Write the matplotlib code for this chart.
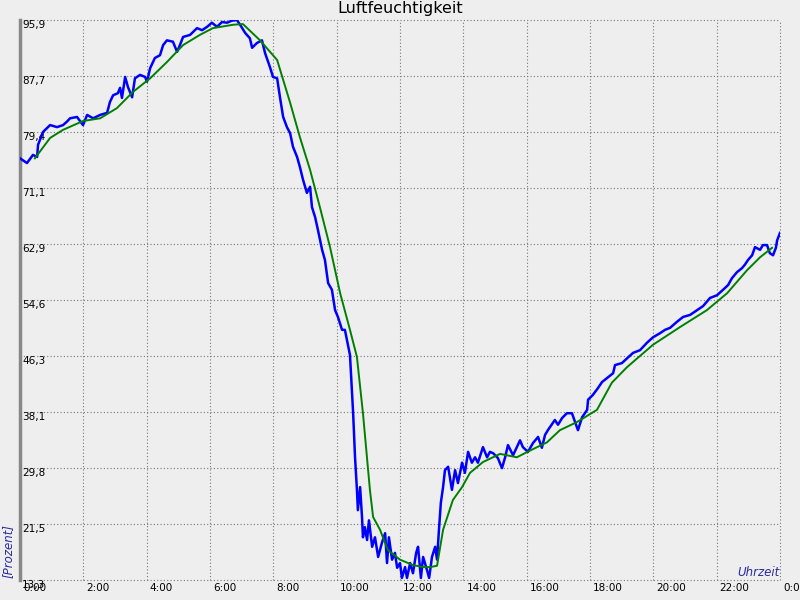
import numpy as np
import matplotlib
matplotlib.use("Agg")
import matplotlib.pyplot as plt
import matplotlib.transforms as mtransforms

# Messwerte (Stunden, Prozent)
blau_zeit = [0.00, 0.22, 0.41, 0.54, 0.57, 0.73, 0.95, 1.17, 1.36, 1.48, 1.58, 1.80, 1.99,
             2.12, 2.31, 2.53, 2.75, 2.84, 2.94, 3.09, 3.16, 3.22, 3.32, 3.41, 3.54, 3.63,
             3.79, 3.95, 4.01, 4.11, 4.26, 4.42, 4.52, 4.64, 4.83, 4.96, 5.05, 5.15, 5.37,
             5.59, 5.75, 5.91, 6.06, 6.22, 6.38, 6.54, 6.69, 6.85, 6.95, 7.11, 7.26, 7.33,
             7.48, 7.64, 7.74, 7.89, 7.99, 8.12, 8.21, 8.31, 8.43, 8.53, 8.62, 8.75, 8.84,
             8.94, 9.06, 9.16, 9.22, 9.32, 9.41, 9.54, 9.63, 9.73, 9.85, 9.95, 10.04, 10.17,
             10.26, 10.42, 10.52, 10.58, 10.64, 10.67, 10.74, 10.80, 10.83, 10.89, 10.96,
             11.02, 11.12, 11.21, 11.31, 11.43, 11.53, 11.59, 11.65, 11.75, 11.84, 11.91,
             12.00, 12.06, 12.16, 12.22, 12.32, 12.41, 12.51, 12.57, 12.66, 12.73, 12.85,
             12.92, 13.01, 13.11, 13.17, 13.23, 13.29, 13.36, 13.42, 13.52, 13.64, 13.74,
             13.83, 13.96, 14.05, 14.15, 14.27, 14.37, 14.46, 14.62, 14.75, 14.84, 14.94,
             15.09, 15.22, 15.32, 15.41, 15.57, 15.79, 15.88, 16.04, 16.20, 16.36, 16.48,
             16.58, 16.67, 16.89, 16.99, 17.12, 17.27, 17.43, 17.53, 17.62, 17.75, 17.91,
             17.94, 18.09, 18.25, 18.38, 18.57, 18.73, 18.79, 19.01, 19.17, 19.36, 19.58,
             19.80, 19.99, 20.21, 20.37, 20.53, 20.75, 20.94, 21.16, 21.38, 21.57, 21.79,
             22.01, 22.20, 22.36, 22.48, 22.64, 22.80, 22.89, 22.99, 23.12, 23.21, 23.37,
             23.46, 23.59, 23.68, 23.78, 23.87, 23.91, 24.00]
blau_wert = [75.5, 74.8, 76.0, 75.7, 77.5, 79.4, 80.4, 80.1, 80.4, 80.9, 81.4, 81.6, 80.4,
             81.9, 81.4, 81.9, 82.2, 83.8, 84.8, 85.1, 85.9, 84.4, 87.5, 86.0, 84.5, 87.3,
             87.8, 87.5, 86.8, 88.8, 90.3, 90.7, 92.2, 92.9, 92.7, 91.2, 92.2, 93.4, 93.7,
             94.7, 94.4, 94.9, 95.5, 94.9, 95.6, 95.5, 95.8, 95.9, 95.2, 94.0, 93.2, 91.8,
             92.5, 92.9, 91.0, 89.0, 87.5, 87.3, 84.5, 81.6, 80.1, 79.2, 77.2, 75.7, 74.2,
             72.3, 70.4, 71.3, 68.3, 66.8, 64.9, 62.0, 60.5, 57.1, 56.1, 53.1, 52.1, 50.2,
             50.2, 46.5, 37.9, 31.4, 26.6, 23.6, 27.0, 22.6, 19.6, 21.1, 19.2,
             22.1, 18.2, 19.6, 16.7, 18.8, 20.2, 15.8, 19.6, 16.3, 17.3, 15.1,
             15.8, 13.6, 15.2, 13.6, 15.8, 14.3, 17.3, 18.2, 13.6, 16.7, 14.8,
             13.6, 16.7, 18.2, 16.3, 20.7, 24.7, 27.0, 29.5, 30.0, 26.6, 29.5,
             27.6, 30.6, 29.1, 32.2, 30.6, 31.4, 30.6, 32.9, 31.4, 32.2, 32.0,
             31.3, 29.8, 31.4, 33.2, 31.7, 33.9, 32.9, 32.2, 33.5, 34.4, 32.8,
             34.7, 35.4, 36.9, 36.2, 37.2, 37.9, 37.9, 36.6, 35.4, 37.3, 38.4,
             39.9, 40.6, 41.6, 42.5, 43.2, 43.8, 45.0, 45.3, 46.0, 46.8, 47.2,
             48.3, 49.1, 49.7, 50.2, 50.5, 51.4, 52.1, 52.4, 53.1, 53.7, 54.9,
             55.3, 56.1, 56.8, 57.8, 58.7, 59.3, 59.8, 60.5, 61.2, 62.4, 62.0,
             62.7, 62.7, 61.5, 61.2, 62.3, 63.4, 64.5]

# geglaettete Kurve
gruen_zeit = [0.47, 0.95, 1.36, 1.99, 2.53, 3.06, 3.57, 4.11, 4.64, 5.15, 5.68, 6.09, 6.73,
              7.04, 7.58, 8.12, 8.53, 8.84, 9.16, 9.47, 9.79, 10.11, 10.42, 10.64, 10.83,
              11.05, 11.15, 11.37, 11.62, 12.00, 12.41, 12.73, 12.95, 13.17, 13.36, 13.67,
              13.96, 14.21, 14.62, 15.16, 15.69, 16.11, 16.64, 17.05, 17.59, 18.22, 18.69,
              19.17, 19.99, 20.84, 21.69, 22.33, 22.96, 23.37, 23.75]
gruen_wert = [75.5, 78.5, 79.7, 81.0, 81.4, 82.9, 85.3, 87.3, 89.7, 92.2, 93.7, 94.7, 95.2,
              95.3, 92.9, 90.0, 83.7, 78.6, 73.8, 68.3, 62.4, 55.6, 50.2, 46.2, 37.9,
              26.6, 22.6, 20.7, 17.7, 16.3, 15.5, 15.2, 15.2, 15.4, 20.7, 25.1,
              27.0, 29.1, 30.7, 31.9, 31.4, 32.4, 33.6, 35.4, 36.6, 38.4, 42.4,
              44.7, 48.0, 50.6, 53.1, 55.6, 59.0, 60.9, 62.3]

y_min, y_max = 13.3, 95.9
y_labels = ["13,3", "21,5", "29,8", "38,1", "46,3", "54,6", "62,9", "71,1", "79,4", "87,7", "95,9"]
x_ticks = list(range(0, 25, 2))
x_labels = ["0:00", "2:00", "4:00", "6:00", "8:00", "10:00", "12:00", "14:00",
            "16:00", "18:00", "20:00", "22:00", "0:00"]

bg = "#eeeeee"
fig = plt.figure(figsize=(8, 6), dpi=100, facecolor=bg)
ax = fig.add_axes([0.025, 1 - 580 / 600, 0.95, 560 / 600])
ax.set_facecolor(bg)

ax.plot(blau_zeit, blau_wert, color="#0000ff", lw=1.8, zorder=3)
ax.plot(gruen_zeit, gruen_wert, color="#008000", lw=1.4, zorder=4)

ax.set_xlim(0, 24)
ax.set_ylim(y_min, y_max)
ax.set_xticks(x_ticks)
ax.set_xticklabels(x_labels, fontsize=7.5)
ax.set_yticks(np.linspace(y_min, y_max, 11))
ax.set_yticklabels(y_labels, fontsize=7.5)
ax.tick_params(length=0)
ax.tick_params(axis="y", pad=-1.5)
ax.tick_params(axis="x", pad=2)
for lab in ax.get_yticklabels():
    lab.set_ha("left")
    lab.set_va("top")
off = mtransforms.ScaledTranslation(2.2 / 72, 0, fig.dpi_scale_trans)
for lab in ax.get_xticklabels():
    lab.set_ha("left")
    lab.set_transform(lab.get_transform() + off)

ax.grid(True, color="#777777", linestyle=(0, (1, 2)), lw=0.8)
for gl in ax.get_xgridlines() + ax.get_ygridlines():
    gl.set_clip_on(False)
for s in ["top", "right", "bottom"]:
    ax.spines[s].set_visible(False)
ax.spines["left"].set_color("#888888")
ax.spines["left"].set_linewidth(2.5)

fig.text(0.5, 1 - 9 / 600, "Luftfeuchtigkeit", ha="center", va="center", fontsize=11.5)
fig.text(8 / 800, 1 - 578 / 600, "[Prozent]", rotation=90, ha="center", va="bottom",
         fontsize=8.5, style="italic", color="#2a2aa0")
fig.text(780 / 800, 1 - 572 / 600, "Uhrzeit", ha="right", va="center",
         fontsize=8.5, style="italic", color="#2a2aa0")

fig.savefig("out.png", dpi=100, facecolor=bg)
